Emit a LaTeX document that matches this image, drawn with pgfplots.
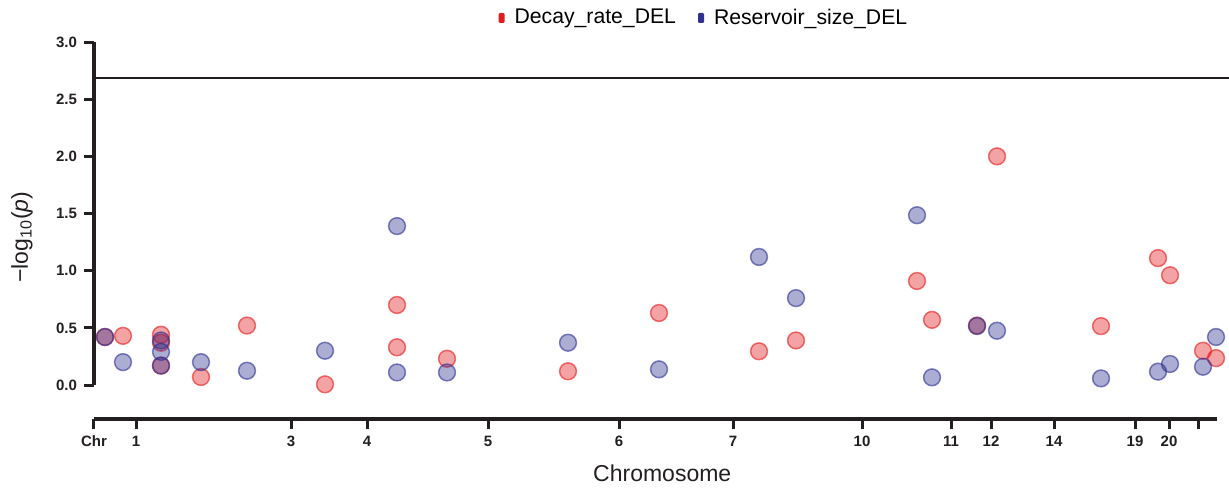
\documentclass[border=0pt]{standalone}
\usepackage{fontspec}
\setmainfont{Liberation Sans}
\usepackage{pgfplots}
\pgfplotsset{compat=1.18}
\definecolor{redc}{RGB}{228,26,28}
\definecolor{bluec}{RGB}{46,49,146}
\definecolor{axc}{RGB}{35,31,32}

\begin{document}
\begin{tikzpicture}
\begin{axis}[name=ax, scale only axis,
    width=561.5pt, height=171.5pt,
    xmin=94, xmax=1217, ymin=0, ymax=3,
    axis x line=bottom, axis y line=left,
    axis line style={-, line width=1.6pt, color=axc},
    axis x line shift=17pt,
    tick align=outside, major tick length=5pt,
    tick style={line width=1.5pt, color=axc},
    ytick={0,0.5,1,1.5,2,2.5,3},
    yticklabel style={/pgf/number format/.cd, fixed, fixed zerofill, precision=1},
    /pgf/number format/assume math mode=true,
    xtick={94,136,291,367,488,619,733,862,951,991,1054,1135,1169,1198},
    xticklabels={Chr,1,3,4,5,6,7,10,11,12,14,19,20,{}},
    ticklabel style={font=\bfseries\fontsize{7.5}{9}\selectfont, color=axc},
    xlabel={Chromosome},
    ylabel={−log\textsubscript{10}(\textit{p})},
    label style={font=\fontsize{11.5}{13}\selectfont, color=axc},
    xlabel style={at={(axis description cs:0.506,-0.2566)}, anchor=center},
    ylabel style={at={(axis description cs:-0.0641,0.431)}, anchor=center},
    clip=false,
    legend columns=2,
    legend style={at={(0.544,1.07)}, anchor=center, draw=none, fill=none,
        font=\fontsize{10.6}{12}\selectfont,
        /tikz/every even column/.append style={column sep=9pt}},
    every axis plot/.append style={only marks, mark=*, mark size=4.2pt, line width=0.75pt},
]
% threshold line
\addplot[forget plot, no marks, sharp plot, line width=0.9pt, color=axc] coordinates {(94,2.686) (1229,2.686)};

\addplot[draw=redc, draw opacity=0.6, fill=redc, fill opacity=0.4,
    legend image code/.code={\fill[redc, draw=none, fill opacity=1, rounded corners=0.6pt] (0pt,-2.5pt) rectangle (3pt,2.5pt); \path[draw=none, fill=none] (3pt,0pt) -- (6pt,0pt);}]
coordinates {
    (105,0.42) (123,0.43) (161,0.44) (161,0.37) (161,0.17)
    (201,0.07) (247,0.52) (325,0.006) (397,0.70) (397,0.33)
    (447,0.23) (568,0.12) (659,0.63) (759,0.295) (796,0.39)
    (917,0.91) (932,0.57) (977,0.52) (997,2.00) (1101,0.515)
    (1158,1.11) (1170,0.96) (1203,0.30) (1216,0.235)
};
\addplot[draw=bluec, draw opacity=0.6, fill=bluec, fill opacity=0.4,
    legend image code/.code={\fill[bluec, draw=none, fill opacity=1, rounded corners=0.6pt] (0pt,-2.5pt) rectangle (3pt,2.5pt); \path[draw=none, fill=none] (3pt,0pt) -- (6pt,0pt);}]
coordinates {
    (105,0.42) (123,0.20) (161,0.39) (161,0.29) (161,0.17)
    (201,0.20) (247,0.125) (325,0.30) (397,1.39) (397,0.11)
    (447,0.11) (568,0.37) (659,0.137) (759,1.12) (796,0.76)
    (917,1.485) (932,0.067) (977,0.516) (997,0.475) (1101,0.058)
    (1158,0.117) (1170,0.184) (1203,0.16) (1216,0.42)
};
\legend{Decay\_rate\_DEL, Reservoir\_size\_DEL}
\end{axis}
\pgfresetboundingbox
\path (ax.south west) ++(-47pt,-54.5pt) rectangle ++(614.5pt,247pt);
\end{tikzpicture}
\end{document}
